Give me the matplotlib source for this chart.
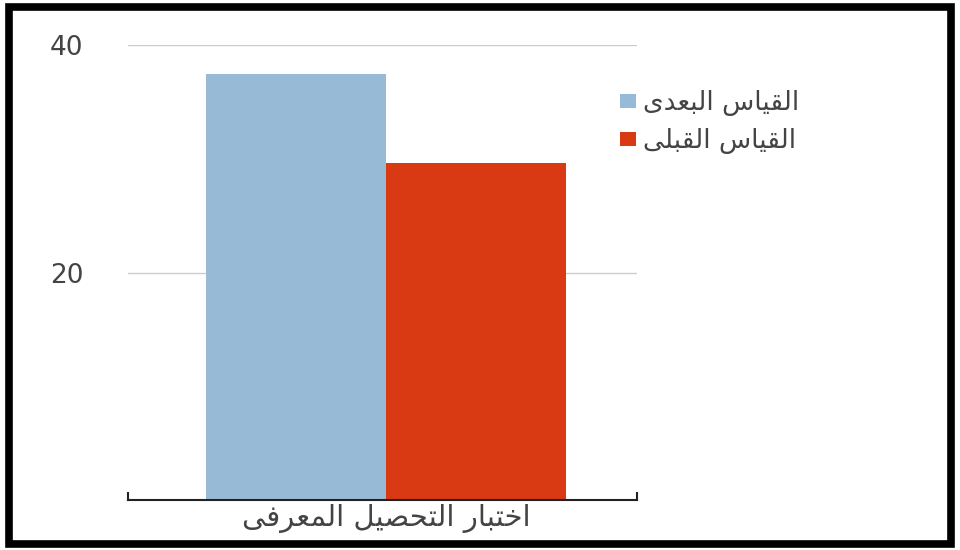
import matplotlib
matplotlib.use('Agg')
import matplotlib.pyplot as plt
from matplotlib.patches import Rectangle

# Arabic is written as presentation forms (already shaped), reversed for LTR drawing
def ar(forms):
    return ''.join(chr(c) for c in forms)[::-1]

# القياس البعدى / القياس القبلى / اختبار التحصيل المعرفى
qiyas = [0xFE8D, 0xFEDF, 0xFED8, 0xFEF4, 0xFE8E, 0xFEB1]
baadi = [0xFE8D, 0xFEDF, 0xFE92, 0xFECC, 0xFEAA, 0xFEEF]
qabli = [0xFE8D, 0xFEDF, 0xFED8, 0xFE92, 0xFEE0, 0xFEF0]
ikhtibar = [0xFE8D, 0xFEA7, 0xFE98, 0xFE92, 0xFE8E, 0xFEAD]
tahsil = [0xFE8D, 0xFEDF, 0xFE98, 0xFEA4, 0xFEBC, 0xFEF4, 0xFEDE]
maarifi = [0xFE8D, 0xFEDF, 0xFEE4, 0xFECC, 0xFEAE, 0xFED3, 0xFEF0]
SP = [0x20]

series_names = [ar(qiyas + SP + baadi), ar(qiyas + SP + qabli)]
category = ar(ikhtibar + SP + tahsil + SP + maarifi)
values = [37.5, 29.6]
colors = ['#97bad6', '#d93a14']
y_ticks = [20, 40]

plt.rcParams['font.family'] = ['DejaVu Sans']

fig = plt.figure(figsize=(9.6, 5.5), dpi=100)
ax = fig.add_axes([0.1333, 0.0909, 0.530, 0.827])

width = 0.354
offsets = [-width / 2, width / 2]
for v, off, c, name in zip(values, offsets, colors, series_names):
    ax.bar(0 + off, v, width=width, color=c, label=name, zorder=2)

ax.set_xlim(-0.507, 0.493)
ax.set_ylim(0, 40)
ax.set_yticks(y_ticks)
ax.set_yticklabels([str(t) for t in y_ticks], fontsize=19, color='#444444')
ax.tick_params(axis='y', length=0, pad=32)
ax.set_xticks([0])
ax.set_xticklabels([category], fontsize=21, color='#444444')
ax.tick_params(axis='x', length=0, pad=3)
ax.grid(axis='y', color='#cccccc', linewidth=1, zorder=0)

for s in ['left', 'right', 'top']:
    ax.spines[s].set_visible(False)
ax.spines['bottom'].set_color('#222222')
ax.spines['bottom'].set_linewidth(1.5)
# small end caps on the baseline
for xe in [0, 1]:
    ax.plot([xe, xe], [0, 0.015], transform=ax.transAxes, color='#222222',
            linewidth=1.5, clip_on=False)

leg = ax.legend(loc='upper left', bbox_to_anchor=(0.635, 0.855),
                bbox_transform=fig.transFigure, frameon=False, fontsize=19,
                handlelength=0.6, handleheight=0.45, handletextpad=0.25,
                labelspacing=0.45, borderaxespad=0)
for t in leg.get_texts():
    t.set_color('#444444')

# black frame around the picture
fig.patches.append(Rectangle((0.009, 0.011), 0.982, 0.977, transform=fig.transFigure,
                             fill=False, edgecolor='black', linewidth=5.5))

fig.savefig('out.png', dpi=100)
